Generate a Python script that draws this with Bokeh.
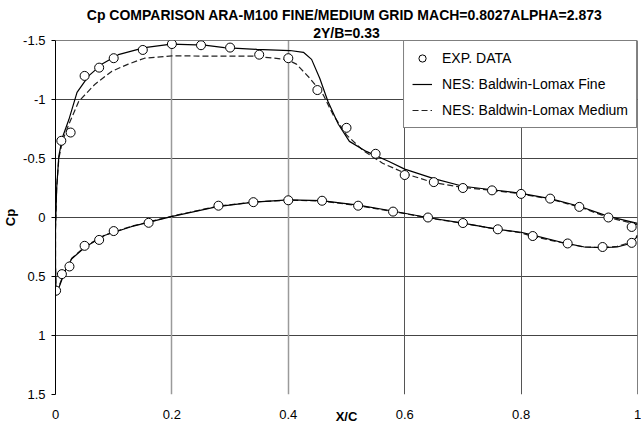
from bokeh.plotting import figure
from bokeh.models import (Range1d, FixedTicker, Grid, Legend, LegendItem,
                          Title, Span, CustomJSTickFormatter)
from bokeh.embed import file_html
from bokeh.resources import INLINE

FONT = "Liberation Sans"

# ---- data ----
x_ticks = [0, 0.2, 0.4, 0.6, 0.8, 1.0]
y_ticks = [-1.5, -1.0, -0.5, 0.0, 0.5, 1.0, 1.5]

exp_upper_x = [0.010, 0.026, 0.050, 0.075, 0.100, 0.150, 0.200, 0.250, 0.300, 0.350, 0.400, 0.450,
               0.500, 0.550, 0.600, 0.650, 0.700, 0.750, 0.800, 0.850, 0.900, 0.950, 0.990]
exp_upper_cp = [-0.65, -0.72, -1.20, -1.27, -1.35, -1.42, -1.47, -1.46, -1.44, -1.38, -1.35, -1.08,
                -0.76, -0.54, -0.36, -0.30, -0.25, -0.23, -0.20, -0.16, -0.09, 0.00, 0.08]
exp_lower_x = [0.001, 0.011, 0.024, 0.050, 0.075, 0.100, 0.160, 0.280, 0.340, 0.400, 0.458, 0.520,
               0.580, 0.640, 0.700, 0.760, 0.820, 0.880, 0.940, 0.990]
exp_lower_cp = [0.62, 0.48, 0.415, 0.24, 0.19, 0.115, 0.045, -0.10, -0.13, -0.146, -0.142, -0.10,
                -0.05, 0.00, 0.047, 0.10, 0.157, 0.22, 0.25, 0.215]

fine_upper_x = [1.000, 0.950, 0.900, 0.850, 0.800, 0.750, 0.700, 0.650, 0.600, 0.573, 0.534, 0.505,
                0.486, 0.468, 0.454, 0.440, 0.426, 0.403, 0.346, 0.290, 0.256, 0.199, 0.153, 0.108,
                0.080, 0.057, 0.037, 0.023, 0.012, 0.0057, 0.002, 0.000]
fine_upper_cp = [0.05, -0.01, -0.095, -0.16, -0.205, -0.235, -0.265, -0.33, -0.41, -0.475, -0.56, -0.645,
                 -0.79, -0.985, -1.18, -1.34, -1.40, -1.415, -1.425, -1.44, -1.46, -1.47, -1.44, -1.38,
                 -1.30, -1.20, -1.06, -0.83, -0.68, -0.52, -0.25, 0.10]
fine_lower_x = [0.000, 0.001, 0.004, 0.0085, 0.017, 0.028, 0.051, 0.085, 0.130, 0.199, 0.278, 0.341,
                0.400, 0.457, 0.520, 0.579, 0.639, 0.700, 0.760, 0.800, 0.820, 0.878, 0.909, 0.939,
                0.965, 0.988, 1.000]
fine_lower_cp = [0.40, 0.66, 0.62, 0.56, 0.446, 0.35, 0.25, 0.15, 0.078, -0.007, -0.092, -0.13,
                 -0.149, -0.143, -0.105, -0.055, 0.0, 0.047, 0.10, 0.125, 0.15, 0.22, 0.25, 0.256,
                 0.25, 0.22, 0.16]

med_upper_x = [1.000, 0.950, 0.900, 0.850, 0.800, 0.750, 0.700, 0.650, 0.608, 0.562, 0.528, 0.500,
               0.477, 0.460, 0.437, 0.414, 0.397, 0.340, 0.290, 0.200, 0.153, 0.125, 0.097, 0.068,
               0.040, 0.023, 0.012, 0.0057, 0.002, 0.000]
med_upper_cp = [0.06, 0.0, -0.09, -0.155, -0.20, -0.23, -0.255, -0.295, -0.36, -0.46, -0.57, -0.70,
                -0.87, -1.04, -1.18, -1.30, -1.34, -1.367, -1.367, -1.37, -1.35, -1.30, -1.24, -1.13,
                -0.985, -0.79, -0.65, -0.50, -0.25, 0.10]
med_lower_x = [0.000, 0.001, 0.004, 0.0085, 0.017, 0.028, 0.051, 0.085, 0.130, 0.199, 0.278, 0.341,
               0.400, 0.457, 0.520, 0.579, 0.639, 0.700, 0.760, 0.800, 0.820, 0.878, 0.909, 0.939,
               0.965, 0.988, 1.000]
med_lower_cp = [0.40, 0.65, 0.61, 0.55, 0.44, 0.345, 0.245, 0.148, 0.075, -0.01, -0.095, -0.132,
                -0.147, -0.14, -0.10, -0.052, 0.002, 0.05, 0.10, 0.13, 0.16, 0.222, 0.25, 0.255,
                0.245, 0.21, 0.15]

title_main = "Cp  COMPARISON ARA-M100 FINE/MEDIUM GRID MACH=0.8027ALPHA=2.873"
title_sub = "2Y/B=0.33"
series_names = ["EXP. DATA", "NES: Baldwin-Lomax Fine", "NES: Baldwin-Lomax Medium"]

# ---- figure ----
p = figure(width=641, height=429, output_backend="svg", toolbar_location=None,
           x_range=Range1d(0, 1), y_range=Range1d(1.5, -1.5),
           min_border_left=50, min_border_right=4, min_border_top=40, min_border_bottom=35,
           background_fill_color="white", border_fill_color="white")
p.outline_line_color = None
p.grid.visible = False

p.add_layout(Title(text=title_sub, align="center", text_font=FONT, text_font_size="14px",
                   text_font_style="bold", text_color="black", standoff=0), "above")
p.add_layout(Title(text=title_main, align="center", text_font=FONT, text_font_size="14px",
                   text_font_style="bold", text_color="black", standoff=0), "above")

fmt = CustomJSTickFormatter(code="return String(Math.round(tick*10)/10);")

p.xaxis.ticker = FixedTicker(ticks=x_ticks)
p.xaxis.formatter = fmt
p.xaxis.axis_line_color = None
p.xaxis.major_tick_line_color = None
p.xaxis.minor_tick_line_color = None
p.xaxis.major_label_standoff = 9
p.xaxis.major_label_text_font = FONT
p.xaxis.major_label_text_font_size = "13px"
p.xaxis.major_label_text_color = "black"
p.xaxis.axis_label = "X/C"
p.xaxis.axis_label_text_font = FONT
p.xaxis.axis_label_text_font_size = "13px"
p.xaxis.axis_label_text_font_style = "bold"
p.xaxis.axis_label_text_color = "black"
p.xaxis.axis_label_standoff = -13

p.yaxis.ticker = FixedTicker(ticks=y_ticks)
p.yaxis.formatter = fmt
p.yaxis.axis_line_color = "black"
p.yaxis.major_tick_line_color = "black"
p.yaxis.major_tick_out = 4
p.yaxis.major_tick_in = 0
p.yaxis.minor_tick_line_color = None
p.yaxis.major_label_standoff = 6
p.yaxis.major_label_text_font = FONT
p.yaxis.major_label_text_font_size = "13px"
p.yaxis.major_label_text_color = "black"
p.yaxis.axis_label = "Cp"
p.yaxis.axis_label_text_font = FONT
p.yaxis.axis_label_text_font_size = "13px"
p.yaxis.axis_label_text_font_style = "bold"
p.yaxis.axis_label_text_color = "black"
p.yaxis.axis_label_standoff = 2

# grid lines
p.add_layout(Grid(dimension=1, ticker=FixedTicker(ticks=[-1.0, -0.5, 0.0, 0.5, 1.0]),
                  grid_line_color="#444444", grid_line_width=1))
p.add_layout(Grid(dimension=0, ticker=FixedTicker(ticks=[0.2, 0.4]),
                  grid_line_color="#9a9a9a", grid_line_width=1.5))
p.add_layout(Grid(dimension=0, ticker=FixedTicker(ticks=[0.6, 0.8]),
                  grid_line_color="#555555", grid_line_width=1))
p.add_layout(Span(location=-1.5, dimension="width", line_color="black", line_width=1))
p.add_layout(Span(location=1.0, dimension="height", line_color="black", line_width=1))

fine_x = fine_upper_x + fine_lower_x
fine_cp = fine_upper_cp + fine_lower_cp
med_x = med_upper_x + med_lower_x
med_cp = med_upper_cp + med_lower_cp

r_med = p.line(med_x, med_cp, line_color="#222222", line_width=1.2, line_dash="6 3")
r_fine = p.line(fine_x, fine_cp, line_color="black", line_width=1.2)
r_exp = p.scatter(exp_upper_x + exp_lower_x, exp_upper_cp + exp_lower_cp, marker="circle",
                  size=9, fill_color="white", line_color="black", line_width=1)

legend = Legend(items=[LegendItem(label=series_names[0], renderers=[r_exp]),
                       LegendItem(label=series_names[1], renderers=[r_fine]),
                       LegendItem(label=series_names[2], renderers=[r_med])],
                location="top_right", margin=0, padding=8, spacing=8,
                label_height=18, glyph_height=18, glyph_width=20, label_standoff=10,
                border_line_color="black", border_line_width=1,
                background_fill_color="white", background_fill_alpha=1,
                label_text_font=FONT, label_text_font_size="14px", label_text_color="black")
p.add_layout(legend)

open("out.html", "w").write(file_html(p, INLINE))
